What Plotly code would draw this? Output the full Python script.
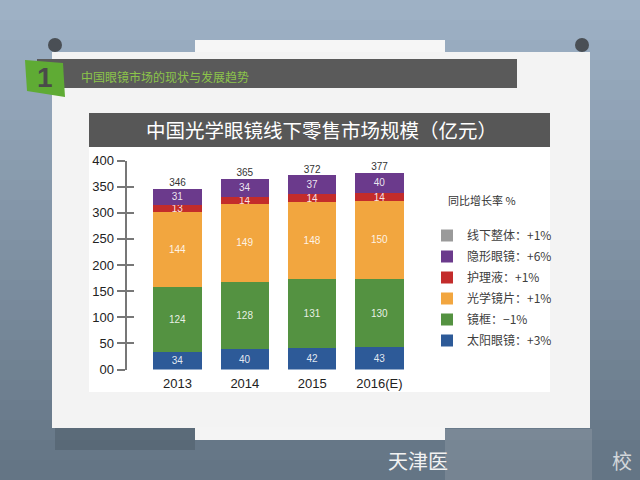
import plotly.graph_objects as go

# ---------------- data ----------------
years = ["2013", "2014", "2015", "2016(E)"]
sunglasses = [34, 40, 42, 43]        # 太阳眼镜
frames = [124, 128, 131, 130]        # 镜框
lenses = [144, 149, 148, 150]        # 光学镜片
solution = [13, 14, 14, 14]          # 护理液
contacts = [31, 34, 37, 40]          # 隐形眼镜
totals = [346, 365, 372, 377]        # 线下整体

series_names = ["太阳眼镜", "镜框", "光学镜片", "护理液", "隐形眼镜", "线下整体"]
growth = ["+3%", "−1%", "+1%", "+1%", "+6%", "+1%"]
colors = ["#2d5a98", "#549241", "#f2a63f", "#c32c2b", "#6b3a8c", "#9a9a9a"]

y_ticks = [0, 50, 100, 150, 200, 250, 300, 350, 400]
y_ticktext = ["00", "50", "100", "150", "200", "250", "300", "350", "400"]

title_text = "中国光学眼镜线下零售市场规模（亿元）"
header_text = "中国眼镜市场的现状与发展趋势"
legend_title = "同比增长率 %"

W, H = 640, 480
FONT = "Liberation Sans, Arial, Noto Sans CJK SC, sans-serif"
CJK = "Noto Sans CJK SC, sans-serif"


def px(x):
    return x / W


def py(y):
    return 1 - y / H


fig = go.Figure()

n_series = len(series_names)
stack = [sunglasses, frames, lenses, solution, contacts]
for i, vals in enumerate(stack):
    fig.add_trace(go.Bar(
        x=years, y=vals, name=f"{series_names[i]}：{growth[i]}",
        legendgroup=f"g{i}", legendrank=n_series - i,
        marker=dict(color=colors[i], line=dict(width=0)),
        text=[str(v) for v in vals], textposition="inside",
        insidetextanchor="middle", textangle=0, constraintext="none",
        textfont=dict(color="rgba(255,255,255,0.88)", size=10, family=FONT),
        hoverinfo="skip",
    ))

# total series (legend entry only)
fig.add_trace(go.Bar(
    x=years, y=[None] * len(years), name=f"{series_names[5]}：{growth[5]}",
    legendgroup="g5", legendrank=1,
    marker=dict(color=colors[5], line=dict(width=0)), hoverinfo="skip",
))

# total labels above the bars
fig.add_trace(go.Scatter(
    x=years, y=totals, mode="text", text=[str(t) for t in totals],
    textposition="top center", textfont=dict(size=10, color="#333333", family=FONT),
    showlegend=False, hoverinfo="skip", yaxis="y2",
))

# ---------------- decoration ----------------
shapes = []
top_c = (158, 177, 197)
bot_c = (100, 117, 133)
n = 24
for k in range(n):
    t = k / (n - 1)
    c = tuple(int(top_c[j] + (bot_c[j] - top_c[j]) * t) for j in range(3))
    shapes.append(dict(type="rect", xref="paper", yref="paper", layer="below",
                       x0=0, x1=1, y0=py(H * (k + 1) / n), y1=py(H * k / n),
                       fillcolor="rgb(%d,%d,%d)" % c, line=dict(width=0)))
shapes.append(dict(type="rect", xref="paper", yref="paper", layer="below",
                   x0=px(55), x1=px(195), y0=py(450), y1=py(428),
                   fillcolor="rgba(60,72,84,0.3)", line=dict(width=0)))
for cx in (55, 582):
    shapes.append(dict(type="circle", xref="paper", yref="paper", layer="below",
                       x0=px(cx - 7), x1=px(cx + 7), y0=py(52), y1=py(38),
                       fillcolor="#4a4f55", line=dict(width=0)))
shapes.append(dict(type="rect", xref="paper", yref="paper", layer="below",
                   x0=px(52), x1=px(590), y0=py(428), y1=py(52),
                   fillcolor="#f3f3f3", line=dict(width=0)))
shapes.append(dict(type="rect", xref="paper", yref="paper", layer="below",
                   x0=px(195), x1=px(445), y0=py(52), y1=py(40),
                   fillcolor="#f6f6f6", line=dict(width=0)))
shapes.append(dict(type="rect", xref="paper", yref="paper", layer="below",
                   x0=px(195), x1=px(445), y0=py(440), y1=py(427),
                   fillcolor="#f4f4f4", line=dict(width=0)))
shapes.append(dict(type="rect", xref="paper", yref="paper", layer="below",
                   x0=px(445), x1=px(592), y0=py(480), y1=py(429),
                   fillcolor="rgba(190,196,202,0.2)", line=dict(width=0)))
shapes.append(dict(type="rect", xref="paper", yref="paper", layer="below",
                   x0=px(37), x1=px(517), y0=py(88), y1=py(59),
                   fillcolor="#5a5a5a", line=dict(width=0)))
shapes.append(dict(type="path", xref="paper", yref="paper", layer="below",
                   path="M %f,%f L %f,%f L %f,%f L %f,%f Z" % (
                       px(25), py(60), px(63), py(63), px(65), py(97), px(27), py(91)),
                   fillcolor="#5fab34", line=dict(width=0)))
shapes.append(dict(type="rect", xref="paper", yref="paper", layer="below",
                   x0=px(89), x1=px(550), y0=py(392), y1=py(113),
                   fillcolor="#ffffff", line=dict(width=0)))
shapes.append(dict(type="rect", xref="paper", yref="paper", layer="below",
                   x0=px(89), x1=px(550), y0=py(147), y1=py(113),
                   fillcolor="#575757", line=dict(width=0)))

annotations = [
    dict(text="<b>1</b>", xref="paper", yref="paper", x=px(45), y=py(78),
         showarrow=False, font=dict(size=28, color="#4a4a4a", family=FONT),
         xanchor="center", yanchor="middle"),
    dict(text=header_text, xref="paper", yref="paper", x=px(79), y=py(76),
         showarrow=False, font=dict(size=12, color="#8cc44a", family=CJK),
         xanchor="left", yanchor="middle"),
    dict(text=title_text, xref="paper", yref="paper", x=px(321), y=py(130),
         showarrow=False, font=dict(size=19.5, color="#ffffff", family=CJK),
         xanchor="center", yanchor="middle"),
    dict(text=legend_title, xref="paper", yref="paper", x=px(446), y=py(200),
         showarrow=False, font=dict(size=11, color="#333333", family=CJK),
         xanchor="left", yanchor="middle"),
    dict(text="天津医", xref="paper", yref="paper", x=px(386), y=py(460),
         showarrow=False, font=dict(size=20, color="#f2f2f2", family=CJK),
         xanchor="left", yanchor="middle"),
    dict(text="校", xref="paper", yref="paper", x=px(610), y=py(460),
         showarrow=False, font=dict(size=20, color="rgba(242,242,242,0.8)", family=CJK),
         xanchor="left", yanchor="middle"),
]

x_lo = -(177.5 - 126.5) / 67.33
x_hi = (420 - 177.5) / 67.33

fig.update_layout(
    width=W, height=H,
    margin=dict(l=0, r=0, t=0, b=0, pad=0, autoexpand=False),
    paper_bgcolor="#9eb1c5", plot_bgcolor="rgba(0,0,0,0)",
    barmode="stack", bargap=0.28,
    showlegend=True,
    legend=dict(x=px(427), y=py(221), xanchor="left", yanchor="top",
                traceorder="grouped", tracegroupgap=2,
                bgcolor="rgba(0,0,0,0)",
                font=dict(size=12, color="#404040", family=CJK),
                itemwidth=30),
    xaxis=dict(domain=[px(126.5), px(420)], range=[x_lo, x_hi],
               showline=False, showgrid=False, zeroline=False, ticks="",
               ticklabelstandoff=4, automargin=False,
               tickfont=dict(size=13, color="#222222", family=FONT),
               fixedrange=True),
    yaxis=dict(domain=[py(369.5), py(160.5)], range=[0, 400],
               tickvals=y_ticks, ticktext=y_ticktext, automargin=False,
               showline=True, linecolor="#777777", linewidth=2,
               ticks="outside", ticklen=8, tickwidth=1.5, tickcolor="#777777",
               showgrid=False, zeroline=False,
               tickfont=dict(size=13, color="#222222", family=FONT),
               fixedrange=True),
    yaxis2=dict(overlaying="y", range=[0, 400], tickvals=y_ticks,
                showticklabels=False, ticks="inside", ticklen=7, tickwidth=1.5,
                tickcolor="#777777", showline=False, showgrid=False,
                zeroline=False, side="left", fixedrange=True, automargin=False),
    shapes=shapes, annotations=annotations,
)

fig.write_html("out.html")
